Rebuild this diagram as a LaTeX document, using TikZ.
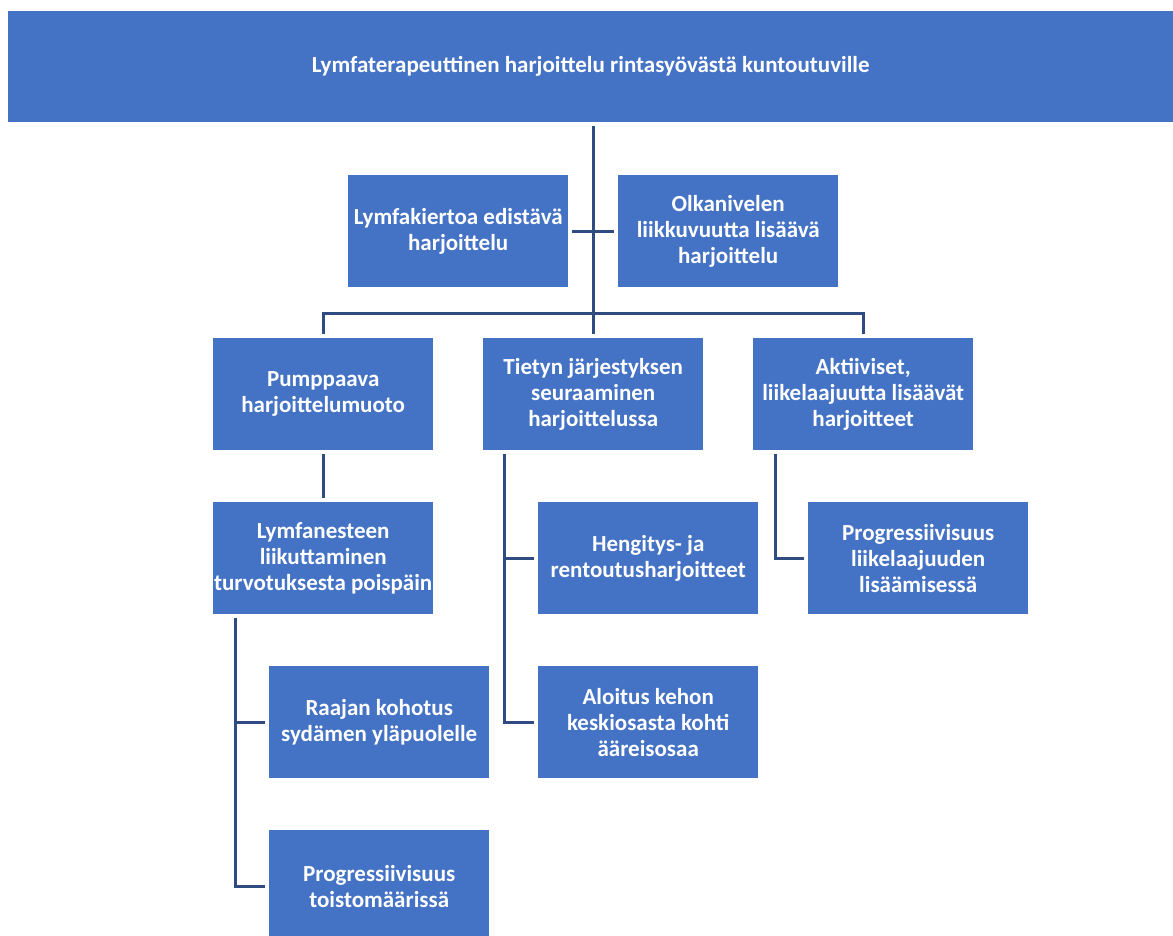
\documentclass[tikz,border=0pt]{standalone}
\usepackage{fontspec}
\setmainfont{Carlito}
\usetikzlibrary{calc}
\definecolor{boxblue}{HTML}{4472C4}
\definecolor{lineblue}{RGB}{47,75,130}
\begin{document}
\begin{tikzpicture}[x=1pt,y=-1pt,
  box/.style={fill=boxblue, text=white, font=\bfseries\fontsize{23}{26}\selectfont,
    align=center, minimum width=220pt, minimum height=112pt, inner sep=0pt, anchor=north west},
  banner/.style={box, minimum width=1165pt, minimum height=111pt},
  conn/.style={draw=lineblue, line width=3pt, shorten <=4pt, shorten >=4pt}]
\useasboundingbox (0,0) rectangle (1173,936);
\node[banner] (title) at (8,11) {Lymfaterapeuttinen harjoittelu rintasyövästä kuntoutuville};
\node[box] (A) at (348,175) {Lymfakiertoa edistävä\\harjoittelu};
\node[box] (B) at (618,175) {Olkanivelen\\liikkuvuutta lisäävä\\harjoittelu};
\node[box] (C) at (213,338) {Pumppaava\\harjoittelumuoto};
\node[box] (D) at (483,338) {Tietyn järjestyksen\\seuraaminen\\harjoittelussa};
\node[box] (E) at (753,338) {Aktiiviset,\\liikelaajuutta lisäävät\\harjoitteet};
\node[box] (F) at (213,502) {Lymfanesteen\\liikuttaminen\\turvotuksesta poispäin};
\node[box] (G) at (538,502) {Hengitys- ja\\rentoutusharjoitteet};
\node[box] (H) at (808,502) {Progressiivisuus\\liikelaajuuden\\lisäämisessä};
\node[box] (I) at (269,666) {Raajan kohotus\\sydämen yläpuolelle};
\node[box] (J) at (538,666) {Aloitus kehon\\keskiosasta kohti\\ääreisosaa};
\node[box] (K) at (269,830) {Progressiivisuus\\toistomäärissä};
% connectors
\draw[conn] (title.south -| D.north) -- (D.north);
\draw[conn] (C.north) -- ++(0,-25) -| (E.north);
\draw[conn] (A.east) -- (B.west);
\draw[conn] (C.south) -- (F.north);
\coordinate (fdrop) at ($(F.south west)+(22,0)$);
\coordinate (ddrop) at ($(D.south west)+(21,0)$);
\coordinate (edrop) at ($(E.south west)+(22,0)$);
\draw[conn] (fdrop) |- (I.west);
\draw[conn] (fdrop) |- (K.west);
\draw[conn] (ddrop) |- (G.west);
\draw[conn] (ddrop) |- (J.west);
\draw[conn] (edrop) |- (H.west);
\end{tikzpicture}
\end{document}
